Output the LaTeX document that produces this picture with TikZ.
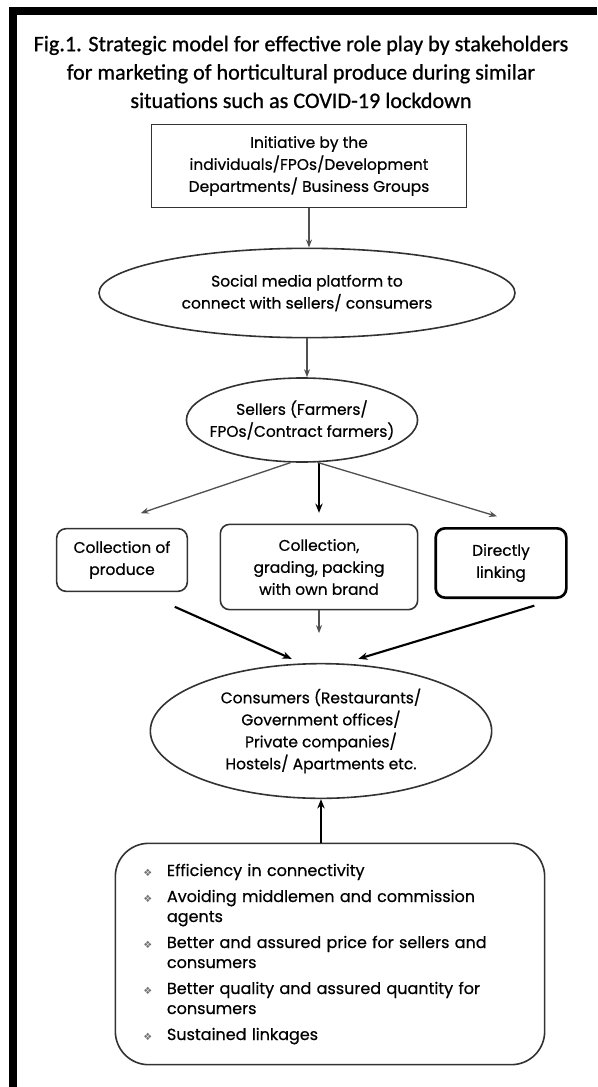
\documentclass[tikz,border=0pt]{standalone}
\usepackage{fontspec}
\setmainfont{Poppins}[FakeBold=0.6]
\newfontfamily\titlefont{Carlito}[FakeBold=0.8]
\newfontfamily\dingfont{DejaVu Sans}
\usetikzlibrary{shapes.geometric,arrows.meta}

\tikzset{every picture/.style={line width=0.5pt}}
\newcommand{\bul}{{\dingfont\fontsize{7.5}{7.5}\selectfont\color{black!55}❖}}

\begin{document}
\begin{tikzpicture}[x=0.75pt,y=0.75pt,yscale=-1,xscale=1,
    outline/.style={draw={rgb, 255:red, 50; green, 50; blue, 50}, line width=1.2pt},
    label/.style={font=\fontsize{11.6}{16.5}\selectfont, align=center, inner sep=0pt},
    plainbox/.style={outline, label, rectangle},
    oval/.style={outline, label, ellipse},
    roundbox/.style={outline, label, rectangle, rounded corners=7pt},
    arrgray/.style={-{Stealth[length=6pt,width=4.5pt]}, draw={rgb, 255:red, 80; green, 80; blue, 80}, line width=1pt},
    arrdark/.style={-{Stealth[length=7pt,width=5.5pt]}, draw=black, line width=1.6pt}]
    \useasboundingbox (0,0) rectangle (597,1087);

    %Shape: scan border
    \fill[black] (9,7) rectangle (597,15);
    \fill[black] (9,7) rectangle (17,1087);

    % Text Node
    \node (title) at (301,72) [inner sep=0pt, align=center, font=\titlefont\fontsize{16.6}{21.3}\selectfont]
        {Fig.1. Strategic model for effective role play by stakeholders\\
         for marketing of horticultural produce during similar\\
         situations such as COVID-19 lockdown};

    %Shape: flow nodes
    \node (initiative) at (309,166) [plainbox, minimum width=236pt, minimum height=62pt]
        {Initiative by the\\individuals/FPOs/Development\\Departments/ Business Groups};
    \node (social) at (307,293) [oval, minimum width=312pt, minimum height=67pt]
        {Social media platform to\\connect with sellers/ consumers};
    \node (sellers) at (302,420) [oval, inner xsep=-8pt, minimum width=166pt, minimum height=63pt]
        {Sellers (Farmers/\\FPOs/Contract farmers)};
    \node (collect) at (122,560) [roundbox, minimum width=98pt, minimum height=47pt]
        {Collection of\\produce};
    \node (grade) at (319,567) [roundbox, minimum width=148pt, minimum height=64pt]
        {Collection,\\grading, packing\\with own brand};
    \node (direct) at (501,563) [roundbox, line width=2pt, draw=black, minimum width=98pt, minimum height=52pt]
        {Directly\\linking};
    \node (consumers) at (321,731) [oval, minimum width=256pt, minimum height=101pt]
        {Consumers (Restaurants/\\Government offices/\\Private companies/\\Hostels/ Apartments etc.};
    \node (benefits) at (330,954) [outline, rounded corners=25pt, inner sep=0pt,
        minimum width=322pt, minimum height=166pt, text width=280pt, align=left,
        font=\fontsize{12}{15}\selectfont]
        {\begin{tabular}{@{}l@{\hspace{11pt}}l@{}}
         \bul & Efficiency in connectivity\\[4.5pt]
         \bul & Avoiding middlemen and commission\\
              & agents\\[4.5pt]
         \bul & Better and assured price for sellers and\\
              & consumers\\[4.5pt]
         \bul & Better quality and assured quantity for\\
              & consumers\\[4.5pt]
         \bul & Sustained linkages
         \end{tabular}};

    %Shape: connectors
    \draw[arrgray] (initiative.south) -- (initiative.south |- social.north);
    \draw[arrgray] (social.south) -- (social.south |- sellers.north);
    \draw[arrgray] (sellers.255) -- ([xshift=14pt,yshift=-11pt]collect.north);
    \draw[arrdark, line width=1.3pt, shorten >=8pt] (sellers.south -| grade.north) -- (grade.north);
    \draw[arrgray] (sellers.290) -- ([xshift=-3pt,yshift=-8pt]direct.north);
    \draw[arrdark] ([xshift=-10pt,yshift=11pt]collect.south east) -- ([xshift=-22pt,yshift=-3pt]consumers.north);
    \draw[arrgray] (grade.south) -- ([yshift=17pt]grade.south);
    \draw[arrdark] ([xshift=25pt,yshift=5pt]direct.south) -- ([xshift=28pt,yshift=-3pt]consumers.north);
    \draw[arrdark, line width=1.3pt] (benefits.north -| consumers.south) -- (consumers.south);
\end{tikzpicture}
\end{document}
